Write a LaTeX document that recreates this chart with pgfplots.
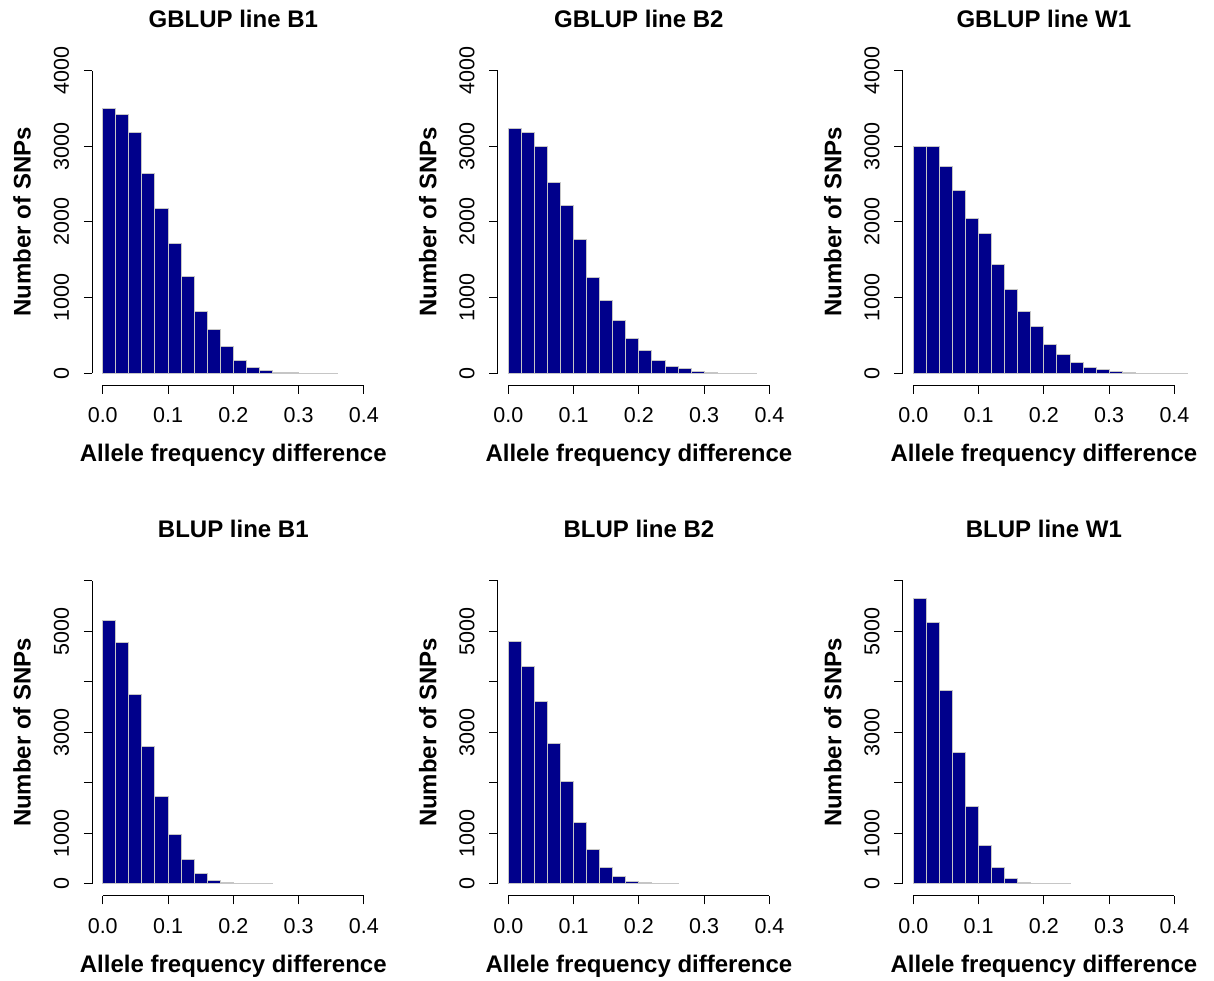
\documentclass[border=0pt]{standalone}
\usepackage{pgfplots}
\pgfplotsset{compat=1.18}
\usepackage{fontspec}
\setmainfont{Liberation Sans}

\definecolor{barblue}{RGB}{0,0,139}
\newcommand{\labfont}{\fontsize{12}{14}\selectfont\bfseries}
\newcommand{\tickfont}{\fontsize{10.75}{12}\selectfont}

\pgfplotsset{
  hist/.style={
    scale only axis, width=141pt, height=163.5pt,
    xmin=-0.016, xmax=0.416, clip=false,
    axis x line*=bottom, axis y line*=left,
    axis line style={draw=none},
    tick align=outside, major tick length=4.25pt,
    every tick/.style={black, line width=0.5pt},
    xtick={0,0.1,0.2,0.3,0.4}, xticklabels={0.0,0.1,0.2,0.3,0.4},
    ticklabel style={font=\tickfont},
    xticklabel style={anchor=base, yshift=-14.5pt},
    yticklabel style={rotate=90, anchor=base, yshift=7.5pt},
    title style={font=\labfont, at={(0.5,1)}, anchor=base, yshift=9.5pt},
    xlabel style={font=\labfont, at={(0.5,0)}, anchor=base, yshift=-38.2pt},
    ylabel style={font=\labfont, at={(0,0.5)}, anchor=base, yshift=30.8pt},
    xlabel={Allele frequency difference},
    ylabel={Number of SNPs},
  },
  toprow/.style={hist, ymin=-160, ymax=4160,
    ytick={0,1000,2000,3000,4000}, yticklabels={0,1000,2000,3000,4000}},
  botrow/.style={hist, ymin=-240, ymax=6240,
    ytick={0,1000,2000,3000,4000,5000,6000}, yticklabels={0,1000,,3000,,5000,}},
  bars/.style={ybar interval, fill=barblue, draw=gray!45, line width=0.5pt},
}

\begin{document}
\begin{tikzpicture}
\useasboundingbox (0,0) rectangle (607pt,-490pt);

% ---- GBLUP, top row
\begin{axis}[toprow, at={(46.15pt,-192.7pt)}, title={GBLUP line B1}]
\addplot[bars] coordinates {
 (0.00,3498) (0.02,3423) (0.04,3185) (0.06,2634) (0.08,2180) (0.10,1714)
 (0.12,1273) (0.14,819) (0.16,573) (0.18,357) (0.20,172) (0.22,79)
 (0.24,31) (0.26,10) (0.28,6) (0.30,2) (0.32,1) (0.34,1) (0.36,0)};
\draw[line width=0.5pt] (axis cs:0,-160) -- (axis cs:0.4,-160);
\draw[line width=0.5pt] (axis cs:-0.016,0) -- (axis cs:-0.016,4000);
\end{axis}

\begin{axis}[toprow, at={(248.95pt,-192.7pt)}, title={GBLUP line B2}]
\addplot[bars] coordinates {
 (0.00,3238) (0.02,3185) (0.04,2991) (0.06,2520) (0.08,2220) (0.10,1766)
 (0.12,1260) (0.14,960) (0.16,696) (0.18,463) (0.20,300) (0.22,172)
 (0.24,93) (0.26,62) (0.28,22) (0.30,9) (0.32,2) (0.34,1) (0.36,1) (0.38,0)};
\draw[line width=0.5pt] (axis cs:0,-160) -- (axis cs:0.4,-160);
\draw[line width=0.5pt] (axis cs:-0.016,0) -- (axis cs:-0.016,4000);
\end{axis}

\begin{axis}[toprow, at={(451.45pt,-192.7pt)}, title={GBLUP line W1}]
\addplot[bars] coordinates {
 (0.00,2991) (0.02,2991) (0.04,2731) (0.06,2414) (0.08,2040) (0.10,1850)
 (0.12,1436) (0.14,1110) (0.16,819) (0.18,617) (0.20,379) (0.22,242)
 (0.24,145) (0.26,79) (0.28,48) (0.30,22) (0.32,9) (0.34,3) (0.36,1)
 (0.38,1) (0.40,1) (0.42,0)};
\draw[line width=0.5pt] (axis cs:0,-160) -- (axis cs:0.4,-160);
\draw[line width=0.5pt] (axis cs:-0.016,0) -- (axis cs:-0.016,4000);
\end{axis}

% ---- BLUP, bottom row
\begin{axis}[botrow, at={(46.15pt,-447.9pt)}, title={BLUP line B1}]
\addplot[bars] coordinates {
 (0.00,5217) (0.02,4786) (0.04,3747) (0.06,2714) (0.08,1721) (0.10,980)
 (0.12,483) (0.14,199) (0.16,73) (0.18,33) (0.20,8) (0.22,3) (0.24,1) (0.26,0)};
\draw[line width=0.5pt] (axis cs:0,-240) -- (axis cs:0.4,-240);
\draw[line width=0.5pt] (axis cs:-0.016,0) -- (axis cs:-0.016,6000);
\end{axis}

\begin{axis}[botrow, at={(248.95pt,-447.9pt)}, title={BLUP line B2}]
\addplot[bars] coordinates {
 (0.00,4806) (0.02,4303) (0.04,3601) (0.06,2780) (0.08,2019) (0.10,1205)
 (0.12,669) (0.14,324) (0.16,139) (0.18,53) (0.20,20) (0.22,5) (0.24,2) (0.26,0)};
\draw[line width=0.5pt] (axis cs:0,-240) -- (axis cs:0.4,-240);
\draw[line width=0.5pt] (axis cs:-0.016,0) -- (axis cs:-0.016,6000);
\end{axis}

\begin{axis}[botrow, at={(451.45pt,-447.9pt)}, title={BLUP line W1}]
\addplot[bars] coordinates {
 (0.00,5647) (0.02,5177) (0.04,3833) (0.06,2595) (0.08,1523) (0.10,755)
 (0.12,324) (0.14,99) (0.16,33) (0.18,8) (0.20,2) (0.22,1) (0.24,0)};
\draw[line width=0.5pt] (axis cs:0,-240) -- (axis cs:0.4,-240);
\draw[line width=0.5pt] (axis cs:-0.016,0) -- (axis cs:-0.016,6000);
\end{axis}
\end{tikzpicture}
\end{document}
